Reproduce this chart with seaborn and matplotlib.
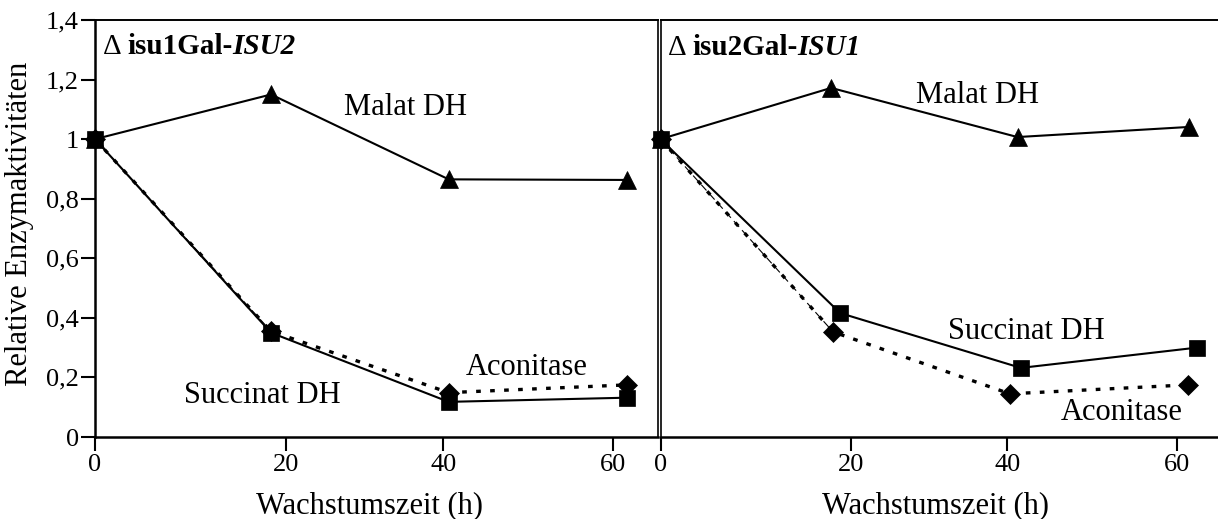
import numpy as np
import matplotlib
matplotlib.use("Agg")
import matplotlib.pyplot as plt
import seaborn as sns

# Relative enzyme activities against growth time (h) for two depletion strains
hours_left = [0, 18.4, 40.65, 61.65]
malat_left = [1.0, 1.15, 0.865, 0.863]
succinat_left = [1.0, 0.35, 0.118, 0.132]
aconitase_left = [1.0, 0.355, 0.149, 0.175]

hours_malat_right = [0, 17.9, 41.2, 61.5]
malat_right = [1.0, 1.172, 1.007, 1.041]
hours_succinat_right = [0, 18.85, 41.6, 62.4]
succinat_right = [1.0, 0.416, 0.232, 0.30]
hours_aconitase_right = [0, 18.1, 40.3, 61.3]
aconitase_right = [1.0, 0.353, 0.145, 0.175]

x_ticks = [0, 20, 40, 60]
y_ticks = [0, 0.2, 0.4, 0.6, 0.8, 1.0, 1.2, 1.4]
y_tick_labels = ["0", "0,2", "0,4", "0,6", "0,8", "1", "1,2", "1,4"]

sns.set_style("ticks")
plt.rcParams["font.family"] = ["Liberation Serif", "DejaVu Serif"]
plt.rcParams.update({
    "text.color": "black",
    "axes.labelcolor": "black",
    "xtick.color": "black",
    "ytick.color": "black",
    "axes.edgecolor": "black",
})

# Piecewise-linear time axis (tick spacing of the original drawing)
KNOT_H = np.array([0.0, 20.0, 40.0, 60.0])
KNOT_U = np.array([0.0, 191.0, 347.5, 517.0])
SLOPE_HI = (KNOT_U[-1] - KNOT_U[-2]) / 20.0
SLOPE_LO = KNOT_U[1] / 20.0


def fwd(x):
    x = np.asarray(x, dtype=float)
    u = np.interp(x, KNOT_H, KNOT_U)
    u = np.where(x > KNOT_H[-1], KNOT_U[-1] + (x - KNOT_H[-1]) * SLOPE_HI, u)
    u = np.where(x < 0, x * SLOPE_LO, u)
    return u


def inv(u):
    u = np.asarray(u, dtype=float)
    x = np.interp(u, KNOT_U, KNOT_H)
    x = np.where(u > KNOT_U[-1], KNOT_H[-1] + (u - KNOT_U[-1]) / SLOPE_HI, x)
    x = np.where(u < 0, u / SLOPE_LO, x)
    return x


W, H = 1218, 519
fig = plt.figure(figsize=(W / 100, H / 100), dpi=100)
ax1 = fig.add_axes([95 / W, 82 / H, (658 - 95) / W, 417 / H])
ax2 = fig.add_axes([660.5 / W, 82 / H, (W - 660.5) / W, 417 / H])


def series(ax, x, y, marker, ms, ls="-", lw=1.5, z=3):
    sns.lineplot(x=x, y=y, ax=ax, color="black", marker=marker, markersize=ms,
                 markeredgecolor="black", markeredgewidth=0.5, linewidth=lw,
                 linestyle=ls, sort=False, errorbar=None, clip_on=False,
                 zorder=z, legend=False)


DOTS = (0, (1.4, 2.8))


def panel(ax, hm, m, hs, s, ha, a):
    series(ax, hm, m, "^", 12.5)
    series(ax, ha, a, "D", 9.8, ls=DOTS, lw=2.4)
    # thin dashed first segment of the aconitase curve
    series(ax, ha[:2], a[:2], None, 0, ls=(0, (7, 4)), lw=0.8)
    series(ax, hs, s, "s", 11, z=4)


panel(ax1, hours_left, malat_left, hours_left, succinat_left,
      hours_left, aconitase_left)
panel(ax2, hours_malat_right, malat_right, hours_succinat_right, succinat_right,
      hours_aconitase_right, aconitase_right)

for ax, xmax in ((ax1, 65.3), (ax2, 64.9)):
    ax.set_xscale("function", functions=(fwd, inv))
    ax.set_xlim(0, xmax)
    ax.set_ylim(0, 1.4)
    ax.set_xticks(x_ticks)
    ax.set_xticklabels([str(t) for t in x_ticks])
    ax.minorticks_off()
    ax.set_xlabel("")
    ax.set_ylabel("")
    ax.tick_params(axis="x", direction="out", length=10, width=1.5,
                   labelsize=19, pad=2, colors="black")
    ax.tick_params(axis="y", direction="out", length=10, width=1.5,
                   labelsize=19, pad=1.5, colors="black")
    ax.spines["bottom"].set_linewidth(1.8)
    ax.spines["top"].set_linewidth(1.4)
    for sp in ax.spines.values():
        sp.set_color("black")
    ax.set_facecolor("none")

ax1.set_yticks(y_ticks)
ax1.set_yticklabels(y_tick_labels)
ax1.spines["left"].set_linewidth(1.8)
ax1.spines["right"].set_linewidth(1.2)
ax2.set_yticks(y_ticks)
ax2.tick_params(axis="y", left=False, labelleft=False)
ax2.spines["left"].set_linewidth(1.2)
ax2.spines["right"].set_visible(False)


def strain_title(ax, x, y, plain, italic):
    t1 = ax.text(x, y, "\u0394 ", transform=ax.transAxes, fontsize=21,
                 va="baseline", ha="left", color="black")
    t2 = ax.annotate(plain, xy=(1, 0), xycoords=t1, fontsize=21,
                     fontweight="bold", va="bottom", ha="left", color="black")
    ax.annotate(italic, xy=(1, 0), xycoords=t2, fontsize=21,
                fontweight="bold", fontstyle="italic", va="bottom", ha="left",
                color="black")


strain_title(ax1, 0.0142, 0.918, "isu1Gal-", "ISU2")
strain_title(ax2, 0.0135, 0.916, "isu2Gal-", "ISU1")

lab = dict(fontsize=22, ha="center", va="baseline", color="black")
ax1.text(0.551, 0.772, "Malat DH", transform=ax1.transAxes, **lab)
ax1.text(0.297, 0.0815, "Succinat DH", transform=ax1.transAxes, **lab)
ax1.text(0.767, 0.149, "Aconitase", transform=ax1.transAxes, **lab)
ax2.text(0.5695, 0.801, "Malat DH", transform=ax2.transAxes, **lab)
ax2.text(0.6556, 0.235, "Succinat DH", transform=ax2.transAxes, **lab)
ax2.text(0.828, 0.0408, "Aconitase", transform=ax2.transAxes, **lab)

fig.text(20 / W, 1 - 224 / H, "Relative Enzymaktivitäten", rotation=90,
         fontsize=22, ha="center", va="center", color="black")
fig.text(369 / W, 1 - 506 / H, "Wachstumszeit (h)", fontsize=22,
         ha="center", va="center", color="black")
fig.text(936 / W, 1 - 506 / H, "Wachstumszeit (h)", fontsize=22,
         ha="center", va="center", color="black")

fig.savefig("out.png", dpi=100, facecolor="white")
